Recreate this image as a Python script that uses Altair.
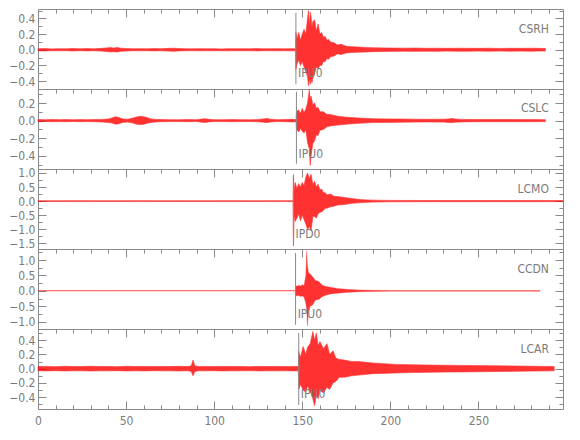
import altair as alt
import pandas as pd

# ---------------- data ----------------
STATIONS = ["CSRH", "CSLC", "LCMO", "CCDN", "LCAR"]
PICK_LABELS = ["IPU0", "IPU0", "IPD0", "IPU0", "IPU0"]
PICK_T = [146.4, 146.7, 145.0, 146.2, 148.0]
PICK_TOP = [0.47, 0.33, 0.90, 1.23, 0.50]
PICK_BOT = [-0.44, -0.49, -1.50, -1.10, -0.51]
PICK_TEXT_Y = [-0.29, -0.38, -1.16, -0.75, -0.36]
NAME_T = 290
NAME_Y = [0.27, 0.14, 0.42, 0.72, 0.28]
Y_DOMAINS = [[-0.50, 0.52], [-0.55, 0.36], [-1.70, 1.14], [-1.24, 1.36], [-0.565, 0.556]]
Y_MAJOR = [[-0.4, -0.2, 0.0, 0.2, 0.4],
           [-0.4, -0.2, 0.0, 0.2],
           [-1.5, -1.0, -0.5, 0.0, 0.5, 1.0],
           [-1.0, -0.5, 0.0, 0.5, 1.0],
           [-0.4, -0.2, 0.0, 0.2, 0.4]]
Y_MINOR = [[-0.5, -0.4, -0.3, -0.2, -0.1, 0.0, 0.1, 0.2, 0.3, 0.4, 0.5],
           [-0.5, -0.4, -0.3, -0.2, -0.1, 0.0, 0.1, 0.2, 0.3],
           [-1.5, -1.25, -1.0, -0.75, -0.5, -0.25, 0.0, 0.25, 0.5, 0.75, 1.0],
           [-1.0, -0.75, -0.5, -0.25, 0.0, 0.25, 0.5, 0.75, 1.0, 1.25],
           [-0.5, -0.4, -0.3, -0.2, -0.1, 0.0, 0.1, 0.2, 0.3, 0.4, 0.5]]
X_MAJOR = [0, 50, 100, 150, 200, 250]
X_MINOR = [0, 10, 20, 30, 40, 50, 60, 70, 80, 90, 100, 110, 120, 130, 140, 150,
           160, 170, 180, 190, 200, 210, 220, 230, 240, 250, 260, 270, 280, 290]
X_DOMAIN = [0, 298]

# envelopes of the traces (time s, upper, lower)
CSRH_T = [0, 4, 8, 12, 16, 20, 24, 28, 32, 36, 39, 41, 43, 45, 47, 50, 54, 58, 62, 66, 70, 74, 77, 80,
          84, 88, 92, 96, 100, 104, 108, 112, 116, 120, 124, 128, 132, 136, 140, 144, 146.2,
          146.4, 147, 148, 149, 150, 151, 152, 153, 153.5, 154, 154.5, 155, 155.5, 156, 157, 158, 159,
          160, 161, 162, 163, 164, 165, 166, 168, 170, 172, 175, 178, 182, 186, 190, 196, 202, 208,
          214, 220, 226, 232, 238, 244, 250, 256, 262, 268, 274, 280, 284, 288]
CSRH_HI = [0.012, 0.015, 0.011, 0.014, 0.012, 0.016, 0.013, 0.015, 0.012, 0.018, 0.024, 0.028, 0.022,
           0.03, 0.02, 0.016, 0.013, 0.014, 0.012, 0.015, 0.013, 0.018, 0.02, 0.016, 0.013, 0.012,
           0.014, 0.012, 0.013, 0.011, 0.014, 0.012, 0.013, 0.012, 0.015, 0.012, 0.013, 0.014, 0.012,
           0.014, 0.012,
           0.23, 0.14, 0.22, 0.12, 0.2, 0.26, 0.2, 0.4, 0.5, 0.3, 0.48, 0.42, 0.28, 0.36, 0.38, 0.24,
           0.33, 0.2, 0.22, 0.16, 0.17, 0.12, 0.13, 0.1, 0.09, 0.06, 0.07, 0.045, 0.04, 0.035, 0.03,
           0.026, 0.024, 0.022, 0.02, 0.022, 0.019, 0.02, 0.018, 0.02, 0.019, 0.018, 0.02, 0.017,
           0.019, 0.018, 0.02, 0.018, 0.016]
CSRH_LO = [-0.012, -0.014, -0.012, -0.013, -0.012, -0.015, -0.012, -0.014, -0.013, -0.017, -0.022,
           -0.027, -0.024, -0.028, -0.02, -0.015, -0.012, -0.013, -0.012, -0.014, -0.012, -0.017,
           -0.019, -0.015, -0.012, -0.012, -0.013, -0.012, -0.012, -0.012, -0.013, -0.012, -0.012,
           -0.012, -0.014, -0.012, -0.012, -0.013, -0.012, -0.013, -0.012,
           -0.25, -0.18, -0.13, -0.2, -0.15, -0.22, -0.28, -0.34, -0.46, -0.36, -0.44, -0.38, -0.42,
           -0.36, -0.3, -0.22, -0.24, -0.2, -0.2, -0.15, -0.15, -0.11, -0.12, -0.09, -0.08, -0.05,
           -0.06, -0.04, -0.035, -0.03, -0.028, -0.024, -0.022, -0.02, -0.019, -0.02, -0.018, -0.019,
           -0.017, -0.018, -0.018, -0.017, -0.018, -0.016, -0.018, -0.017, -0.018, -0.016, -0.015]

CSLC_T = [0, 4, 8, 12, 16, 20, 24, 28, 32, 36, 40, 42, 44, 46, 48, 51, 54, 56, 58, 60, 62, 64, 67, 70,
          75, 80, 85, 90, 93, 95, 97, 100, 105, 110, 115, 120, 125, 128, 130, 132, 136, 140, 144,
          146.5, 146.7, 148, 149, 150, 151, 152, 153, 154, 154.5, 155, 156, 157, 158, 159, 160, 162,
          164, 166, 170, 175, 182, 190, 198, 206, 214, 222, 230, 233, 235, 237, 240, 248, 256, 264,
          272, 280, 288]
CSLC_HI = [0.012, 0.01, 0.013, 0.011, 0.012, 0.01, 0.012, 0.011, 0.013, 0.014, 0.02, 0.03, 0.045,
           0.035, 0.02, 0.016, 0.03, 0.042, 0.05, 0.045, 0.035, 0.02, 0.014, 0.012, 0.011, 0.01,
           0.012, 0.011, 0.018, 0.022, 0.015, 0.011, 0.01, 0.012, 0.011, 0.01, 0.012, 0.02, 0.024,
           0.016, 0.011, 0.012, 0.015,
           0.012, 0.105, 0.12, 0.08, 0.14, 0.09, 0.13, 0.2, 0.35, 0.24, 0.28, 0.18, 0.2, 0.14, 0.15,
           0.1, 0.1, 0.07, 0.07, 0.05, 0.04, 0.03, 0.022, 0.02, 0.018, 0.016, 0.015, 0.016, 0.02,
           0.024, 0.018, 0.014, 0.013, 0.012, 0.013, 0.012, 0.012, 0.011]
CSLC_LO = [-0.012, -0.01, -0.012, -0.011, -0.012, -0.01, -0.012, -0.011, -0.012, -0.014, -0.02,
           -0.028, -0.04, -0.034, -0.02, -0.016, -0.028, -0.04, -0.045, -0.042, -0.03, -0.02, -0.014,
           -0.012, -0.011, -0.01, -0.012, -0.011, -0.017, -0.02, -0.014, -0.011, -0.01, -0.012,
           -0.011, -0.01, -0.012, -0.018, -0.022, -0.015, -0.011, -0.012, -0.014,
           -0.012, -0.1, -0.13, -0.09, -0.12, -0.14, -0.1, -0.25, -0.32, -0.51, -0.4, -0.26, -0.23,
           -0.16, -0.17, -0.11, -0.1, -0.07, -0.06, -0.05, -0.04, -0.03, -0.022, -0.02, -0.018,
           -0.016, -0.015, -0.016, -0.02, -0.022, -0.017, -0.014, -0.013, -0.012, -0.012, -0.012,
           -0.012, -0.011]

LCMO_T = [0, 10, 20, 30, 40, 50, 60, 70, 80, 90, 100, 110, 120, 130, 140, 144.8,
          145.0, 145.4, 146, 147, 148, 149, 150, 151, 152, 153, 154, 155, 156, 157, 158, 159, 160,
          161, 162, 163, 164, 166, 168, 170, 174, 178, 184, 190, 200, 215, 230, 245, 260, 275, 290, 298]
LCMO_HI = [0.015, 0.014, 0.016, 0.015, 0.014, 0.015, 0.016, 0.014, 0.015, 0.014, 0.015, 0.016, 0.014,
           0.015, 0.016, 0.015,
           0.94, 0.4, 0.66, 0.45, 0.62, 0.5, 0.66, 0.55, 0.85, 1.0, 0.8, 0.95, 0.6, 0.7, 0.5, 0.6,
           0.4, 0.43, 0.3, 0.3, 0.22, 0.25, 0.17, 0.16, 0.13, 0.09, 0.05, 0.035, 0.025, 0.022, 0.02,
           0.02, 0.019, 0.02, 0.019, 0.018]
LCMO_LO = [-0.015, -0.014, -0.015, -0.015, -0.014, -0.015, -0.015, -0.014, -0.015, -0.014, -0.015,
           -0.015, -0.014, -0.015, -0.015, -0.015,
           -1.59, -0.5, -0.72, -0.6, -0.45, -0.7, -0.5, -0.65, -0.8, -1.0, -0.9, -1.05, -0.55, -0.55,
           -0.6, -0.45, -0.4, -0.38, -0.33, -0.25, -0.25, -0.2, -0.18, -0.14, -0.12, -0.08, -0.05,
           -0.035, -0.025, -0.022, -0.02, -0.02, -0.019, -0.02, -0.019, -0.018]

CCDN_T = [0, 20, 40, 60, 80, 100, 120, 140, 146.0,
          146.2, 147, 148, 149, 150, 151, 152, 152.5, 153, 153.5, 154.5, 156, 157.5, 159.5, 161, 163,
          166, 170, 175, 182, 190, 200, 220, 240, 260, 285]
CCDN_HI = [0.008, 0.008, 0.008, 0.008, 0.008, 0.008, 0.008, 0.008, 0.008,
           0.17, 0.15, 0.18, 0.16, 0.2, 0.17, 0.5, 1.3, 0.8, 0.6, 0.55, 0.45, 0.34, 0.3, 0.2, 0.15,
           0.12, 0.08, 0.05, 0.03, 0.02, 0.012, 0.01, 0.01, 0.01, 0.01]
CCDN_LO = [-0.008, -0.008, -0.008, -0.008, -0.008, -0.008, -0.008, -0.008, -0.008,
           -0.17, -0.16, -0.15, -0.18, -0.17, -0.2, -0.4, -0.6, -1.15, -0.7, -0.5, -0.45, -0.3, -0.28,
           -0.2, -0.15, -0.1, -0.08, -0.05, -0.03, -0.02, -0.012, -0.01, -0.01, -0.01, -0.01]

LCAR_T = [0, 5, 10, 15, 20, 25, 30, 35, 40, 45, 50, 55, 60, 65, 70, 75, 80, 85, 87, 88, 89, 91, 95,
          100, 105, 110, 115, 120, 125, 130, 135, 140, 145, 147.8,
          148, 149, 150.5, 152, 153, 154.5, 156, 157, 158, 159, 160, 162, 164, 165.5, 167.5, 169,
          171, 174, 178, 182, 190, 203, 212, 222, 232, 241, 250, 260, 270, 280, 293]
LCAR_HI = [0.03, 0.032, 0.028, 0.033, 0.03, 0.029, 0.034, 0.03, 0.031, 0.028, 0.033, 0.03, 0.032,
           0.029, 0.031, 0.03, 0.033, 0.029, 0.04, 0.12, 0.04, 0.03, 0.031, 0.029, 0.032, 0.03, 0.031,
           0.028, 0.032, 0.03, 0.031, 0.029, 0.032, 0.03,
           0.24, 0.16, 0.31, 0.2, 0.3, 0.35, 0.52, 0.4, 0.5, 0.32, 0.38, 0.28, 0.35, 0.2, 0.25,
           0.15, 0.13, 0.12, 0.1, 0.1, 0.08, 0.06, 0.055, 0.05, 0.048, 0.045, 0.043, 0.04, 0.038,
           0.035, 0.03]
LCAR_LO = [-0.03, -0.031, -0.028, -0.032, -0.03, -0.029, -0.033, -0.03, -0.03, -0.028, -0.032, -0.03,
           -0.031, -0.029, -0.03, -0.03, -0.032, -0.029, -0.04, -0.1, -0.04, -0.03, -0.03, -0.029,
           -0.031, -0.03, -0.03, -0.028, -0.031, -0.03, -0.03, -0.029, -0.031, -0.03,
           -0.29, -0.22, -0.3, -0.33, -0.24, -0.32, -0.42, -0.52, -0.36, -0.42, -0.3, -0.34, -0.26,
           -0.29, -0.2, -0.18, -0.12, -0.12, -0.1, -0.09, -0.07, -0.06, -0.055, -0.05, -0.047,
           -0.045, -0.043, -0.04, -0.037, -0.034, -0.03]

TRACES = [(CSRH_T, CSRH_HI, CSRH_LO), (CSLC_T, CSLC_HI, CSLC_LO), (LCMO_T, LCMO_HI, LCMO_LO),
          (CCDN_T, CCDN_HI, CCDN_LO), (LCAR_T, LCAR_HI, LCAR_LO)]

# ---------------- styling ----------------
W, H = 525, 80
FONT = "Liberation Sans Narrow, DejaVu Sans Condensed, Roboto, sans-serif"
GREY = "#8a8a8a"
TXT = "#7a7a7a"
RED = "#ff0000"


def tick_axis(orient, values, size, offset=0):
    return alt.Axis(orient=orient, values=values, tickSize=size, offset=offset, labels=False,
                    domain=False, grid=False, title=None, tickColor=GREY, tickWidth=1)


def panel(i, last):
    t, hi, lo = TRACES[i]
    xs = alt.Scale(domain=X_DOMAIN, nice=False, zero=False)
    ys = alt.Scale(domain=Y_DOMAINS[i], nice=False, zero=False)
    df = pd.DataFrame({"t": t, "hi": hi, "lo": lo})
    pk = pd.DataFrame({"t": [PICK_T[i]], "top": [PICK_TOP[i]], "bot": [PICK_BOT[i]],
                       "tt": [PICK_T[i] + 1.2], "ty": [PICK_TEXT_Y[i]], "lab": [PICK_LABELS[i]]})
    nm = pd.DataFrame({"t": [NAME_T], "y": [NAME_Y[i]], "lab": [STATIONS[i]]})

    if last:
        x_main = alt.Axis(orient="bottom", values=X_MAJOR, tickSize=0, labels=True, domain=False,
                          grid=False, title=None, labelFlush=False, labelColor=TXT, labelFont=FONT,
                          labelFontSize=12, labelPadding=6)
    else:
        x_main = None

    area = alt.Chart(df).mark_area(
        color=RED, opacity=0.8, stroke=RED, strokeWidth=0.7 if i != 3 else 0.5,
        strokeOpacity=0.9 if i != 3 else 0.6, interpolate="linear"
    ).encode(
        x=alt.X("t:Q", scale=xs, axis=x_main),
        y=alt.Y("hi:Q", scale=ys,
                axis=alt.Axis(orient="left", values=Y_MAJOR[i], tickSize=0, labels=True,
                              domain=False, grid=False, title=None, labelColor=TXT,
                              labelFont=FONT, labelFontSize=12, labelPadding=3,
                              labelOverlap=False, labelFlush=False)),
        y2="lo:Q",
    )
    rule = alt.Chart(pk).mark_rule(color=GREY, strokeWidth=1).encode(
        x=alt.X("t:Q", scale=xs, axis=tick_axis("bottom", X_MAJOR, 8, -H)),
        y=alt.Y("top:Q", scale=ys, axis=tick_axis("right", Y_MAJOR[i], 8, -W)),
        y2="bot:Q",
    )
    ptxt = alt.Chart(pk).mark_text(align="left", baseline="middle", font=FONT, fontSize=12,
                                   color=TXT).encode(
        x=alt.X("tt:Q", scale=xs, axis=tick_axis("bottom", X_MINOR, 4, -H)),
        y=alt.Y("ty:Q", scale=ys, axis=tick_axis("right", Y_MINOR[i], 4, -W)),
        text="lab:N",
    )
    ntxt = alt.Chart(nm).mark_text(align="right", baseline="middle", font=FONT, fontSize=12,
                                   color=TXT).encode(
        x=alt.X("t:Q", scale=xs, axis=tick_axis("top", X_MAJOR, 8, -H) if last else None),
        y=alt.Y("y:Q", scale=ys, axis=tick_axis("left", Y_MAJOR[i], 8, -W)),
        text="lab:N",
    )
    ntxt2 = alt.Chart(nm).mark_text(opacity=0).encode(
        x=alt.X("t:Q", scale=xs, axis=tick_axis("top", X_MINOR, 4, -H) if last else None),
        y=alt.Y("y:Q", scale=ys, axis=tick_axis("left", Y_MINOR[i], 4, -W)),
        text="lab:N",
    )
    return alt.layer(area, rule, ptxt, ntxt, ntxt2).resolve_axis(
        x="independent", y="independent").properties(width=W, height=H)


chart = alt.vconcat(*[panel(i, i == len(STATIONS) - 1) for i in range(len(STATIONS))],
                    spacing=0, bounds="flush").configure_view(
    stroke=GREY, strokeWidth=1).properties(padding={"left": 0, "top": 0, "right": 0, "bottom": 0})

chart.save("out.html", embed_options={"renderer": "svg", "actions": False})
